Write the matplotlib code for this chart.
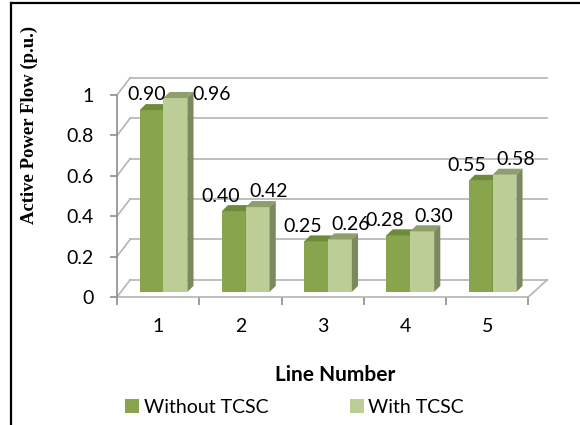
import numpy as np
import matplotlib
matplotlib.use("Agg")
import matplotlib.pyplot as plt
from matplotlib.lines import Line2D

lines = [1, 2, 3, 4, 5]
without_tcsc = [0.90, 0.40, 0.25, 0.28, 0.55]
with_tcsc = [0.96, 0.42, 0.26, 0.30, 0.58]
y_ticks = [0, 0.2, 0.4, 0.6, 0.8, 1.0]
series_names = ["Without TCSC", "With TCSC"]

# front / top / side colours for each series
dark = ("#88A44C", "#6E8B37", "#6A8434")
light = ("#BCCD96", "#8E9E6C", "#7A8A5E")

plt.rcParams["font.family"] = ["Lato", "DejaVu Sans"]
fs = 14

fig = plt.figure(figsize=(5.8, 4.25), dpi=100)
ax = fig.add_axes([117 / 580, 128 / 425, 436 / 580, 1.13 * 202 / 425])
ax.set_xlim(0.5, 5.8)
ax.set_ylim(0, 1.13)
for s in ax.spines.values():
    s.set_visible(False)

grid_col = "#B4B4B4"
axis_col = "#8C8C8C"
dxl, dxr, dy = 0.16, 0.23, 0.085

# walls and floor
for v in y_ticks:
    ax.plot([0.5, 0.5 + dxl], [v, v + dy], color=grid_col, lw=1.2, clip_on=False)
    ax.plot([0.5 + dxl, 5.5 + dxr], [v + dy, v + dy], color=grid_col, lw=1.2, clip_on=False)
ax.plot([0.5, 5.5], [0, 0], color=grid_col, lw=1.2, clip_on=False)
ax.plot([5.5, 5.5 + dxr], [0, dy], color=grid_col, lw=1.2, clip_on=False)
ax.plot([0.5, 0.5], [0, 1.0], color=axis_col, lw=1.2, clip_on=False)

ax.set_yticks(y_ticks)
ax.set_yticklabels(["0", "0.2", "0.4", "0.6", "0.8", "1"])
ax.tick_params(axis="y", length=5, width=1.2, color=axis_col, labelsize=fs, pad=12)

ax.set_xticks(np.arange(0.5, 6, 1))
ax.set_xticklabels([])
ax.set_xticks(lines, minor=True)
ax.set_xticklabels([str(n) for n in lines], minor=True)
ax.tick_params(axis="x", which="major", length=6, width=1.2, color=axis_col)
ax.tick_params(axis="x", which="minor", length=0, labelsize=fs, pad=15)

# 3-d looking columns
x = np.array(lines, dtype=float)
w = 0.29
shift = 0.065
base = 0.025
bdx, bdy = 0.075, 0.03

for vals, cols, off, name in [(without_tcsc, dark, -w / 2, series_names[0]),
                               (with_tcsc, light, w / 2, series_names[1])]:
    xc = x + shift + off
    ax.bar(xc, vals, width=w, bottom=base, color=cols[0], zorder=3, label=name)
    for xi, v in zip(xc, vals):
        l, r, t = xi - w / 2, xi + w / 2, base + v
        ax.fill([l, r, r + bdx, l + bdx], [t, t, t + bdy, t + bdy], color=cols[1], zorder=3, lw=0)
        ax.fill([r, r + bdx, r + bdx, r], [base, base + bdy, t + bdy, t], color=cols[2], zorder=3, lw=0)

# value labels: above the columns, pushed sideways when they hit the top
for i in range(len(lines)):
    for vals, dxo, dxo_top in [(without_tcsc, -0.31, -0.20), (with_tcsc, 0.28, 0.58)]:
        v = vals[i]
        ly = min(v + 0.1, 1.0)
        lx = x[i] + shift + (dxo if ly < 1.0 else dxo_top)
        ax.text(lx, ly, f"{v:.2f}", ha="center", va="center", fontsize=fs, zorder=5)

ax.set_xlabel("Line Number", fontsize=15, fontweight="bold", labelpad=22)
fig.text(0.05, 1 - 125 / 425, "Active Power Flow (p.u.)", rotation=90, ha="center", va="center",
         fontsize=13.5, fontweight="bold", family="Liberation Serif")

fig.legend(loc="center", bbox_to_anchor=(0.508, 0.042), ncol=2, frameon=False, fontsize=fs,
           handlelength=0.7, handleheight=0.7, handletextpad=0.25, columnspacing=4.2)

# outer frame (top and left edges)
fig.add_artist(Line2D([11 / 580, 11 / 580], [0, 1 - 3 / 425], color="black", lw=1.6))
fig.add_artist(Line2D([11 / 580, 1], [1 - 3 / 425, 1 - 3 / 425], color="black", lw=1.6))

fig.savefig("out.png", dpi=100)
